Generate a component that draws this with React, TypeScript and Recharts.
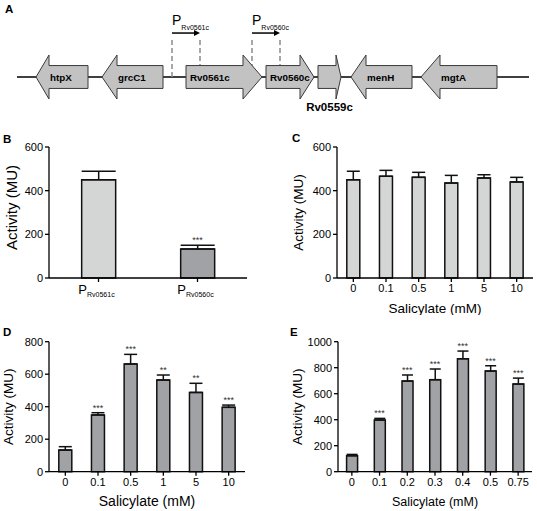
import React from 'react'
import {
  ComposedChart,
  Bar,
  Line,
  XAxis,
  YAxis,
  ErrorBar,
  Cell,
  LabelList,
  ReferenceArea
} from 'recharts'

const FONT = '"Liberation Sans", Arial, sans-serif'

// Panel A: gene map, positions in map units along the line
const mapLength = 512
const geneNames = ['htpX', 'grcC1', 'Rv0561c', 'Rv0560c', 'Rv0559c', 'menH', 'mgtA']
const geneStart = [19, 85, 169, 249, 301, 334, 404]
const geneEnd = [71, 146, 245, 297, 324, 395, 480]
const geneHead = [13, 15, 19, 14, 5, 15, 19]
const geneStrand = [-1, -1, 1, 1, 1, -1, -1]
const promoterNames = ['Rv0561c', 'Rv0560c']
const promoterStart = [155, 235]
const promoterEnd = [183, 263]

// Panel B
const bPromoters = ['Rv0561c', 'Rv0560c']
const bMean = [450, 133]
const bSem = [39, 17]
const bSig = ['', '***']

// Panel C
const cConc = ['0', '0.1', '0.5', '1', '5', '10']
const cMean = [450, 466, 461, 435, 458, 440]
const cSem = [39, 27, 23, 35, 15, 21]
const cSig = ['', '', '', '', '', '']

// Panel D
const dConc = ['0', '0.1', '0.5', '1', '5', '10']
const dMean = [133, 349, 663, 564, 488, 396]
const dSem = [21, 14, 59, 31, 56, 14]
const dSig = ['', '***', '***', '**', '**', '***']

// Panel E
const eConc = ['0', '0.1', '0.2', '0.3', '0.4', '0.5', '0.75']
const eMean = [123, 397, 697, 708, 869, 774, 674]
const eSem = [10, 13, 47, 82, 59, 41, 46]
const eSig = ['', '***', '***', '***', '***', '***', '***']

const LIGHT = '#d4d6d6'
const DARK = '#a0a2a5'

const genes = geneNames.map((name, i) => ({
  name,
  start: geneStart[i],
  end: geneEnd[i],
  head: geneHead[i],
  strand: geneStrand[i]
}))

const promoters = promoterNames.map((name, i) => ({
  name,
  start: promoterStart[i],
  end: promoterEnd[i]
}))

const makeRows = (cats: string[], mean: number[], sem: number[], sig: string[]) =>
  cats.map((c, i) => ({
    cat: c,
    mean: mean[i],
    err: [0, sem[i]],
    top: mean[i] + sem[i],
    sig: sig[i]
  }))

function GeneShape(props: any) {
  const { x, y, width, height, gene } = props
  const k = width / (gene.end - gene.start)
  const hp = gene.head * k
  const yc = y + height / 2
  const bh = (height / 2) * 0.52
  const xr = x + width
  let pts: number[][]
  let labelX: number
  if (gene.strand > 0) {
    const xb = xr - hp
    pts = [[x, yc - bh], [xb, yc - bh], [xb, y], [xr, yc], [xb, y + height], [xb, yc + bh], [x, yc + bh]]
    labelX = x + 4
  } else {
    const xb = x + hp
    pts = [[xr, yc - bh], [xb, yc - bh], [xb, y], [x, yc], [xb, y + height], [xb, yc + bh], [xr, yc + bh]]
    labelX = xb + 1
  }
  const below = width - hp < 30
  return (
    <g>
      <polygon
        points={pts.map((p) => p.join(',')).join(' ')}
        fill="#c2c2c2"
        stroke="#3a3a3a"
        strokeWidth={1}
      />
      <text
        x={below ? x + width / 2 : labelX}
        y={below ? y + height + 12 : yc + 4}
        textAnchor={below ? 'middle' : 'start'}
        fontFamily={FONT}
        fontWeight="bold"
        fontSize={below ? 11.5 : 9.8}
        fill="#000"
      >
        {gene.name}
      </text>
    </g>
  )
}

function PromoterShape(props: any) {
  const { x, y, width, height, name } = props
  const base = y + height
  const ay = y - 7
  const xe = x + width
  return (
    <g>
      <line x1={x} x2={x} y1={y} y2={base} stroke="#8c8c8c" strokeWidth={1.5} strokeDasharray="5 3" />
      <line x1={xe} x2={xe} y1={y} y2={base} stroke="#8c8c8c" strokeWidth={1.5} strokeDasharray="5 3" />
      <line x1={x} x2={xe - 5} y1={ay} y2={ay} stroke="#000" strokeWidth={1.5} />
      <polygon points={`${xe},${ay} ${xe - 6},${ay - 3} ${xe - 6},${ay + 3}`} fill="#000" />
      <text x={x} y={y - 15} fontFamily={FONT} fontSize={14} fill="#000">
        P
        <tspan fontSize={7} dy={5}>
          {name}
        </tspan>
      </text>
    </g>
  )
}

// the chromosome line, drawn as a flat area so it sits under the genes
const BackboneShape = (props: any) => {
  const { x, y, width, height } = props
  const yc = y + height / 2
  return <line x1={x} x2={x + width} y1={yc} y2={yc} stroke="#000" strokeWidth={1.5} />
}

function GeneMap() {
  return (
    <ComposedChart
      width={537}
      height={130}
      data={genes}
      margin={{ top: 55, right: 8, bottom: 31, left: 17 }}
    >
      <XAxis type="number" dataKey="start" domain={[0, mapLength]} allowDataOverflow hide />
      <YAxis type="number" domain={[-1, 1]} allowDataOverflow hide />
      <ReferenceArea
        x1={0}
        x2={mapLength}
        y1={-0.05}
        y2={0.05}
        ifOverflow="visible"
        shape={BackboneShape}
      />
      {promoters.map((p) => (
        <ReferenceArea
          key={p.name}
          x1={p.start}
          x2={p.end}
          y1={0}
          y2={1.68}
          ifOverflow="visible"
          shape={(s: any) => <PromoterShape {...s} name={p.name} />}
        />
      ))}
      {genes.map((g) => (
        <ReferenceArea
          key={g.name}
          x1={g.start}
          x2={g.end}
          y1={-1}
          y2={1}
          ifOverflow="visible"
          shape={(s: any) => <GeneShape {...s} gene={g} />}
        />
      ))}
    </ComposedChart>
  )
}

const StarLabel = (props: any) => {
  const { x, y, value } = props
  if (!value) return null
  return (
    <text x={x} y={y - 2} textAnchor="middle" fontFamily={FONT} fontSize={9} fill="#333">
      {value}
    </text>
  )
}

const PromoterTick = (props: any) => {
  const { x, y, payload } = props
  return (
    <text x={x - 2} y={y + 10} textAnchor="middle" fontFamily={FONT} fill="#000">
      <tspan fontSize={13}>P</tspan>
      <tspan fontSize={7} dy={3}>
        {payload.value}
      </tspan>
    </text>
  )
}

interface PanelProps {
  rows: any[]
  width: number
  height: number
  margin: { top: number; right: number; bottom: number; left: number }
  yWidth: number
  xHeight: number
  yMax: number
  yTicks: number[]
  fill: string
  fills?: string[]
  capWidth: number
  gap: string
  yTitleX: number
  yTitleDy?: number
  yTitleSize: number
  xTitle?: string
  xTitleDy?: number
  xTitleSize?: number
  promoterTicks?: boolean
}

function ActivityPanel(p: PanelProps) {
  const axisStyle = { stroke: '#000', strokeWidth: 1.3 }
  return (
    <ComposedChart
      width={p.width}
      height={p.height}
      data={p.rows}
      margin={p.margin}
      barCategoryGap={p.gap}
    >
      <XAxis
        dataKey="cat"
        height={p.xHeight}
        axisLine={axisStyle}
        tickLine={axisStyle}
        tickSize={4}
        tickMargin={2}
        interval={0}
        tick={p.promoterTicks ? <PromoterTick /> : { fontSize: 11, fill: '#000', fontFamily: FONT }}
        label={
          p.xTitle
            ? (lp: any) => {
                const vb = lp.viewBox
                return (
                  <text
                    x={vb.x + vb.width / 2}
                    y={vb.y + (p.xTitleDy || 0)}
                    textAnchor="middle"
                    fontFamily={FONT}
                    fontSize={p.xTitleSize}
                    fill="#000"
                  >
                    {p.xTitle}
                  </text>
                )
              }
            : undefined
        }
      />
      <YAxis
        type="number"
        width={p.yWidth}
        domain={[0, p.yMax]}
        ticks={p.yTicks}
        axisLine={axisStyle}
        tickLine={axisStyle}
        tickSize={4}
        tickMargin={2}
        tick={{ fontSize: 11, fill: '#000', fontFamily: FONT }}
        label={(lp: any) => {
          const vb = lp.viewBox
          const cx = vb.x + p.yTitleX
          const cy = vb.y + vb.height / 2 + (p.yTitleDy || 0)
          return (
            <text
              x={cx}
              y={cy}
              transform={`rotate(-90 ${cx} ${cy})`}
              textAnchor="middle"
              dominantBaseline="central"
              fontFamily={FONT}
              fontSize={p.yTitleSize}
              fill="#000"
            >
              Activity (MU)
            </text>
          )
        }}
      />
      <Bar dataKey="mean" fill={p.fill} stroke="#111" strokeWidth={1.5} isAnimationActive={false}>
        {p.fills && p.rows.map((r, i) => <Cell key={r.cat} fill={p.fills![i]} />)}
        <ErrorBar dataKey="err" width={p.capWidth} stroke="#111" strokeWidth={1.5} direction="y" />
      </Bar>
      <Line
        dataKey="top"
        stroke="none"
        dot={false}
        activeDot={false}
        legendType="none"
        isAnimationActive={false}
      >
        <LabelList dataKey="sig" content={StarLabel} />
      </Line>
    </ComposedChart>
  )
}

const panelLetters = ['A', 'B', 'C', 'D', 'E']
const letterPos = [
  [5, 13],
  [3, 143],
  [292, 142],
  [3, 336],
  [290, 336]
]

export default function App() {
  const abs = (left: number, top: number): React.CSSProperties => ({ position: 'absolute', left, top })
  return (
    <div style={{ position: 'absolute', left: 0, top: 0, width: 537, height: 511, background: '#fff' }}>
      <div style={abs(0, 0)}>
        <GeneMap />
      </div>
      <div style={abs(0, 130)}>
        <ActivityPanel
          rows={makeRows(bPromoters, bMean, bSem, bSig)}
          width={260}
          height={180}
          margin={{ top: 17, right: 13, bottom: 0, left: 0 }}
          yWidth={49}
          xHeight={32}
          yMax={600}
          yTicks={[0, 200, 400, 600]}
          fill={LIGHT}
          fills={[LIGHT, DARK]}
          capWidth={17}
          gap="33%"
          yTitleX={11}
          yTitleDy={-5}
          yTitleSize={15}
          promoterTicks
        />
      </div>
      <div style={abs(270, 130)}>
        <ActivityPanel
          rows={makeRows(cConc, cMean, cSem, cSig)}
          width={267}
          height={185}
          margin={{ top: 17, right: 4, bottom: 0, left: 0 }}
          yWidth={67}
          xHeight={37}
          yMax={600}
          yTicks={[0, 200, 400, 600]}
          fill={LIGHT}
          capWidth={6.5}
          gap="30%"
          yTitleX={28}
          yTitleSize={13.5}
          xTitle="Salicylate (mM)"
          xTitleDy={34.5}
          xTitleSize={13.5}
        />
      </div>
      <div style={abs(0, 310)}>
        <ActivityPanel
          rows={makeRows(dConc, dMean, dSem, dSig)}
          width={260}
          height={201}
          margin={{ top: 31.7, right: 15, bottom: 0, left: 0 }}
          yWidth={49}
          xHeight={39.3}
          yMax={800}
          yTicks={[0, 200, 400, 600, 800]}
          fill={DARK}
          capWidth={6.5}
          gap="30%"
          yTitleX={9}
          yTitleSize={13.5}
          xTitle="Salicylate (mM)"
          xTitleDy={34.3}
          xTitleSize={14}
        />
      </div>
      <div style={abs(270, 310)}>
        <ActivityPanel
          rows={makeRows(eConc, eMean, eSem, eSig)}
          width={267}
          height={201}
          margin={{ top: 31.7, right: 5, bottom: 0, left: 0 }}
          yWidth={68}
          xHeight={39.3}
          yMax={1000}
          yTicks={[0, 200, 400, 600, 800, 1000]}
          fill={DARK}
          capWidth={5.5}
          gap="31%"
          yTitleX={28}
          yTitleSize={13.5}
          xTitle="Salicylate (mM)"
          xTitleDy={34.3}
          xTitleSize={12.5}
        />
      </div>
      <svg width={537} height={511} style={{ position: 'absolute', left: 0, top: 0, pointerEvents: 'none' }}>
        {panelLetters.map((l, i) => (
          <text
            key={l}
            x={letterPos[i][0]}
            y={letterPos[i][1]}
            fontFamily={FONT}
            fontWeight="bold"
            fontSize={11.5}
            fill="#000"
          >
            {l}
          </text>
        ))}
      </svg>
    </div>
  )
}
